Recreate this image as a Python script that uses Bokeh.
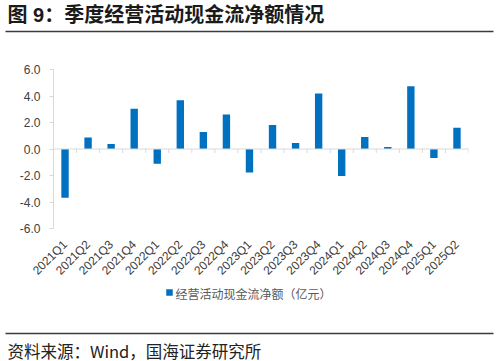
import math
from bokeh.plotting import figure
from bokeh.models import (FactorRange, Range1d, FixedTicker, NumeralTickFormatter, Span)
from bokeh.layouts import column
from bokeh.core.properties import value
from bokeh.embed import file_html
from bokeh.resources import INLINE

# ---- data ----
quarters = ["2021Q1", "2021Q2", "2021Q3", "2021Q4",
            "2022Q1", "2022Q2", "2022Q3", "2022Q4",
            "2023Q1", "2023Q2", "2023Q3", "2023Q4",
            "2024Q1", "2024Q2", "2024Q3", "2024Q4",
            "2025Q1", "2025Q2"]
net_cash = [-3.67, 0.86, 0.38, 3.04,
            -1.11, 3.67, 1.29, 2.61,
            -1.77, 1.82, 0.46, 4.18,
            -2.03, 0.91, 0.15, 4.73,
            -0.68, 1.60]
y_ticks = [-6, -4, -2, 0, 2, 4, 6]
series_name = "经营活动现金流净额（亿元）"
title_text = "图 9：季度经营活动现金流净额情况"
source_text = "资料来源：Wind，国海证券研究所"
bar_color = "#0070C0"

W = 498
LAT = "Liberation Sans, 'Noto Sans CJK SC'"
CJK = "'Noto Sans CJK SC', Liberation Sans"


def blank(h):
    f = figure(width=W, height=h, output_backend="svg", toolbar_location=None,
               x_range=Range1d(0, W), y_range=Range1d(h, 0),
               x_axis_location=None, y_axis_location=None, min_border=0,
               frame_align=False)
    f.grid.visible = False
    f.outline_line_color = None
    return f


# ---- header ----
HH = 40
header = blank(HH)
header.text(x=[7], y=[14], text=[title_text], text_font=value(LAT),
            text_font_size="20px", text_font_style="bold", text_color="#1A1A1A",
            text_baseline="middle", text_align="left")
header.segment(x0=[5], y0=[31], x1=[493], y1=[31], line_color="#3A3A3A", line_width=1.5)

# ---- main chart ----
MH = 245
p = figure(width=W, height=MH, output_backend="svg", toolbar_location=None,
           x_range=FactorRange(factors=quarters), y_range=Range1d(-6, 6),
           min_border_left=53, min_border_right=30, min_border_top=29, min_border_bottom=57,
           frame_align=False)
p.grid.visible = False
p.outline_line_color = None

zero = Span(location=0, dimension="width", line_color="#D9D9D9", line_width=1)
p.add_layout(zero)
bounds = list(range(1, len(quarters) + 1))
p.segment(x0=bounds, y0=[0] * len(bounds), x1=bounds, y1=[-0.3] * len(bounds),
          line_color="#D9D9D9", line_width=1)

bars = p.vbar(x=quarters, top=net_cash, bottom=0, width=0.32,
              fill_color=bar_color, line_color=None)

p.yaxis.ticker = FixedTicker(ticks=y_ticks)
p.yaxis.formatter = NumeralTickFormatter(format="0.0")
p.yaxis.minor_tick_line_color = None
p.yaxis.axis_line_color = "#D9D9D9"
p.yaxis.major_tick_line_color = "#D9D9D9"
p.yaxis.major_tick_in = 0
p.yaxis.major_tick_out = 4
p.yaxis.major_label_standoff = 9
p.yaxis.major_label_text_font = "Liberation Sans"
p.yaxis.major_label_text_font_size = "12px"
p.yaxis.major_label_text_color = "#404040"

p.xaxis.axis_line_color = None
p.xaxis.major_tick_line_color = None
p.xaxis.major_tick_in = 0
p.xaxis.major_tick_out = 0
p.xaxis.major_label_orientation = math.pi / 4
p.xaxis.major_label_standoff = 14
p.xaxis.major_label_text_font = "Liberation Sans"
p.xaxis.major_label_text_font_size = "12px"
p.xaxis.major_label_text_color = "#404040"

# ---- footer (legend + source) ----
FH = 76
footer = blank(FH)
footer.rect(x=[169], y=[7], width=6.5, height=6.5, fill_color=bar_color, line_color=None)
footer.text(x=[175], y=[7.5], text=[series_name], text_font=value(CJK),
            text_font_size="12px", text_color="#595959",
            text_baseline="middle", text_align="left")
footer.segment(x0=[5], y0=[48], x1=[493], y1=[48], line_color="#3A3A3A", line_width=1.5)
footer.text(x=[7], y=[65], text=[source_text], text_font=value(CJK),
            text_font_size="16.5px", text_color="#222222",
            text_baseline="middle", text_align="left")

layout = column(header, p, footer, spacing=0)
open("out.html", "w").write(file_html(layout, INLINE))
